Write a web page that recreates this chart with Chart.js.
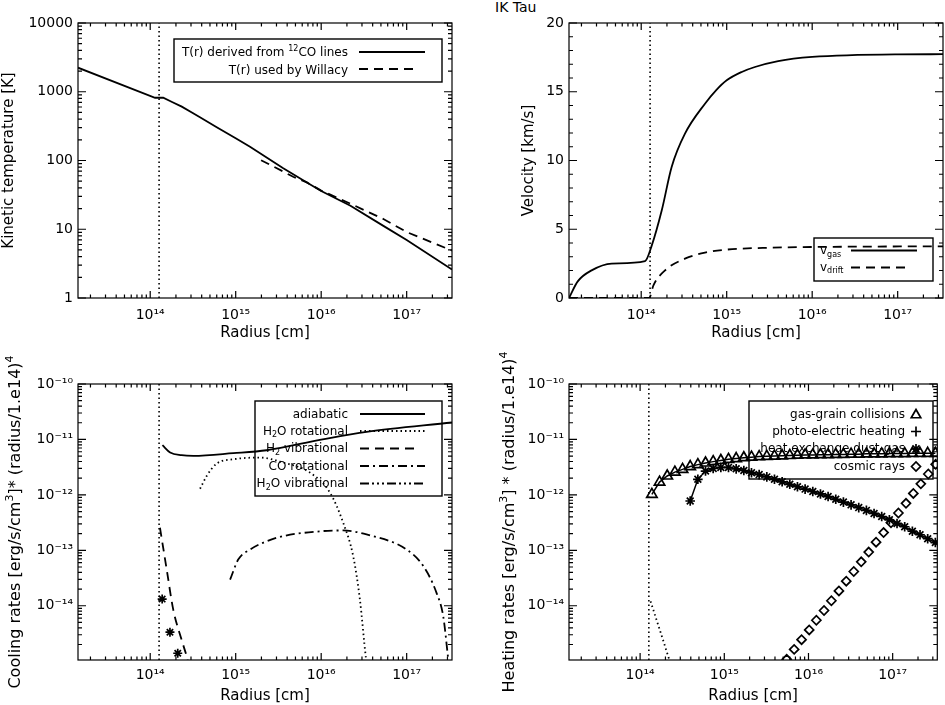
<!DOCTYPE html>
<html>
<head>
<meta charset="utf-8">
<title>IK Tau</title>
<script src="https://cdn.jsdelivr.net/npm/chart.js@4.4.1/dist/chart.umd.min.js"></script>
<style>
  body { margin: 0; background: #fff; width: 945px; height: 705px; position: relative; overflow: hidden; }
  canvas { position: absolute; }
  #title { position: absolute; left: 495px; top: -1px; font: 14px 'DejaVu Sans', sans-serif; color: #000; }
</style>
</head>
<body>
<div id="title">IK Tau</div>
<canvas id="tempChart" width="472" height="350" style="left:0;top:0"></canvas>
<canvas id="velChart" width="473" height="350" style="left:472px;top:0"></canvas>
<canvas id="coolChart" width="472" height="355" style="left:0;top:350px"></canvas>
<canvas id="heatChart" width="473" height="355" style="left:472px;top:350px"></canvas>
<script>
// radius axis, shared by all four panels
const rMin = 1.43e13, rMax = 3.39e17;
const rDust = 1.27e14;   // dotted vertical marker
const xTickValues = [1e14, 1e15, 1e16, 1e17];
const xTickLabels = ['10¹⁴', '10¹⁵', '10¹⁶', '10¹⁷'];

// top left: kinetic temperature
const tempTicks = [1, 10, 100, 1000, 10000];
const tempTickLabels = ['1', '10', '100', '1000', '10000'];
const tempR = [1.43e13, 1.14e14, 1.42e14, 1.8e14, 2.34e14, 3.0e14, 3.82e14, 6.0e14, 1.0e15, 1.47e15, 3.6e15, 6.8e15, 1.0e16, 2.2e16, 5.4e16, 1.0e17, 3.39e17];
const tempCO = [2240, 818, 818, 710, 607, 506, 425, 305, 210, 158, 77, 48, 36, 22, 11.1, 7.0, 2.6];
const willacyR = [1.98e15, 3.6e15, 4.7e15, 6.8e15, 1.0e16, 2.2e16, 5.4e16, 1.0e17, 2.9e17, 3.39e17];
const willacyT = [101, 69, 58, 48, 36.5, 23.5, 14, 9.1, 5.3, 4.9];

// top right: velocity
const velTicks = [0, 5, 10, 15, 20];
const velTickLabels = ['0', '5', '10', '15', '20'];
const gasR = [1.43e13, 1.81e13, 2.63e13, 4.52e13, 1.11e14, 1.33e14, 1.74e14, 2.27e14, 3.25e14, 5.57e14, 7.5e14, 1.0e15, 1.5e15, 2.14e15, 4.0e15, 1.0e16, 1.0e17, 3.39e17];
const gasV = [0, 1.21, 2.01, 2.50, 2.69, 3.83, 6.38, 9.53, 11.95, 14.13, 15.1, 15.83, 16.44, 16.8, 17.23, 17.53, 17.72, 17.73];
const driftR = [1.43e13, 1.24e14, 1.39e14, 1.9e14, 3.25e14, 5.57e14, 1.0e15, 3.36e15, 1.0e16, 3.39e17];
const driftV = [0, 0, 0.92, 2.01, 2.86, 3.3, 3.52, 3.66, 3.71, 3.76];

// bottom: cooling and heating rates
const rateMin = 1.05e-15, rateMax = 1e-10;
const rateTicks = [1e-14, 1e-13, 1e-12, 1e-11, 1e-10];
const rateTickLabels = ['10⁻¹⁴', '10⁻¹³', '10⁻¹²', '10⁻¹¹', '10⁻¹⁰'];

const adiabR = [1.39e14, 1.71e14, 2.33e14, 3.2e14, 9.4e14, 2.3e15, 1.0e16, 3.4e16, 3.39e17];
const adiabC = [7.87e-12, 5.8e-12, 5.19e-12, 5.05e-12, 5.64e-12, 6.38e-12, 9.9e-12, 1.37e-11, 2.02e-11];
const h2oRotR = [3.83e14, 4.58e14, 6.0e14, 9.4e14, 1.92e15, 3.6e15, 7.4e15, 1.27e16, 1.81e16, 2.37e16, 2.84e16, 3.34e16, 3.5e16];
const h2oRotC = [1.29e-12, 2.19e-12, 3.67e-12, 4.39e-12, 4.71e-12, 3.82e-12, 2.52e-12, 1.09e-12, 3.13e-13, 7.8e-14, 1.28e-14, 1.13e-15, 7e-16];
const h2VibR = [1.3e14, 1.56e14, 1.86e14, 2.33e14, 2.74e14, 2.9e14];
const h2VibC = [2.55e-13, 4.49e-14, 8.5e-15, 2.43e-15, 1.05e-15, 7e-16];
const coRotR = [8.6e14, 1.07e15, 1.47e15, 3.02e15, 1.0e16, 1.8e16, 3.39e16, 1.0e17, 1.57e17, 2.24e17, 2.68e17, 3.07e17];
const coRotC = [2.96e-14, 6.8e-14, 1.03e-13, 1.68e-13, 2.21e-13, 2.28e-13, 1.93e-13, 1.03e-13, 5.15e-14, 1.69e-14, 6.4e-15, 1.05e-15];

// radii where symbols are plotted
const rMark = [1.380e14, 1.702e14, 2.099e14, 2.588e14, 3.192e14, 3.936e14, 4.853e14, 5.984e14, 7.379e14, 9.099e14,
  1.122e15, 1.384e15, 1.706e15, 2.104e15, 2.594e15, 3.199e15, 3.945e15, 4.864e15, 5.998e15, 7.396e15,
  9.120e15, 1.125e16, 1.387e16, 1.710e16, 2.109e16, 2.600e16, 3.206e16, 3.954e16, 4.875e16, 6.012e16,
  7.413e16, 9.141e16, 1.127e17, 1.390e17, 1.714e17, 2.113e17, 2.606e17, 3.214e17];
const coolStarC = [1.32e-14, 3.33e-15, 1.39e-15];   // first three radii
const gasGrainH = [1.02e-12, 1.70e-12, 2.19e-12, 2.57e-12, 2.88e-12, 3.24e-12, 3.51e-12, 3.76e-12, 3.98e-12, 4.17e-12,
  4.37e-12, 4.52e-12, 4.68e-12, 4.79e-12, 4.90e-12, 4.95e-12, 5.01e-12, 5.07e-12, 5.13e-12, 5.19e-12,
  5.25e-12, 5.25e-12, 5.31e-12, 5.31e-12, 5.37e-12, 5.37e-12, 5.43e-12, 5.43e-12, 5.50e-12, 5.50e-12,
  5.50e-12, 5.56e-12, 5.56e-12, 5.56e-12, 5.62e-12, 5.62e-12, 5.62e-12, 5.62e-12];
const dustGasH = [7.76e-13, 1.91e-12, 2.69e-12, 2.99e-12, 3.13e-12, 3.13e-12, 2.95e-12, 2.75e-12, 2.51e-12, 2.32e-12,
  2.11e-12, 1.91e-12, 1.72e-12, 1.55e-12, 1.40e-12, 1.27e-12, 1.15e-12, 1.04e-12, 9.33e-13, 8.32e-13,
  7.41e-13, 6.61e-13, 5.89e-13, 5.25e-13, 4.62e-13, 4.07e-13, 3.55e-13, 3.05e-13, 2.66e-13, 2.21e-13,
  1.91e-13, 1.62e-13, 1.38e-13];   // from the sixth radius on
const cosmicR = [5.51e15, 6.76e15, 8.28e15, 1.02e16, 1.24e16, 1.53e16, 1.87e16, 2.30e16, 2.81e16, 3.45e16,
  4.23e16, 5.19e16, 6.35e16, 7.80e16, 9.55e16, 1.17e17, 1.44e17, 1.76e17, 2.16e17, 2.65e17, 3.24e17];
const cosmicH = [1.08e-15, 1.63e-15, 2.44e-15, 3.66e-15, 5.47e-15, 8.20e-15, 1.23e-14, 1.85e-14, 2.77e-14, 4.15e-14,
  6.21e-14, 9.31e-14, 1.40e-13, 2.09e-13, 3.14e-13, 4.71e-13, 7.05e-13, 1.06e-12, 1.58e-12, 2.38e-12, 3.56e-12];
const innerR = [1.33e14, 1.7e14, 2.25e14];
const innerH = [1.2e-14, 3.8e-15, 1.0e-15];

Chart.defaults.font.family = "'DejaVu Sans', sans-serif";
Chart.defaults.color = '#000';

const FONT = '"DejaVu Sans"';

// text with ^{sup} and _{sub} parts
function drawRich(ctx, text, x, y, align, size) {
  const runs = [];
  const re = /([\^_])\{([^}]*)\}/g;
  let last = 0, m;
  while ((m = re.exec(text)) !== null) {
    if (m.index > last) runs.push({ t: text.slice(last, m.index), k: '' });
    runs.push({ t: m[2], k: m[1] });
    last = re.lastIndex;
  }
  if (last < text.length) runs.push({ t: text.slice(last), k: '' });
  const fontFor = k => (k ? Math.round(size * 0.68) : size) + 'px ' + FONT;
  let total = 0;
  runs.forEach(r => { ctx.font = fontFor(r.k); r.w = ctx.measureText(r.t).width; total += r.w; });
  let cx = align === 'right' ? x - total : align === 'center' ? x - total / 2 : x;
  ctx.textAlign = 'left';
  ctx.textBaseline = 'middle';
  runs.forEach(r => {
    ctx.font = fontFor(r.k);
    const dy = r.k === '^' ? -size * 0.38 : r.k === '_' ? size * 0.32 : 0;
    ctx.fillText(r.t, cx, y + dy);
    cx += r.w;
  });
}

function drawMarker(ctx, style, radius, x, y) {
  ctx.fillStyle = 'rgba(0,0,0,0)';
  ctx.lineWidth = 1.7;
  if (Chart.helpers && Chart.helpers.drawPoint) {
    Chart.helpers.drawPoint(ctx, { pointStyle: style, radius: radius, borderWidth: 1.7, rotation: 0 }, x, y);
  }
  ctx.fillStyle = '#000';
}

// legend boxes and rotated axis titles, per canvas
const legendSpecs = {
  tempChart: {
    box: [174, 39, 442, 82], align: 'right', textX: 348, size: 12,
    items: [
      { text: 'T(r) derived from ^{12}CO lines', y: 53, line: [359, 425], ly: 52, dash: [] },
      { text: 'T(r) used by Willacy', y: 70.5, line: [359, 417], ly: 69, dash: [9, 6] }
    ]
  },
  velChart: {
    box: [342, 238, 461, 281], align: 'left', textX: 348, size: 12,
    items: [
      { text: 'v_{gas}', y: 251, line: [379, 445], ly: 250.5, dash: [] },
      { text: 'v_{drift}', y: 267.5, line: [379, 437], ly: 267.5, dash: [9, 6] }
    ]
  },
  coolChart: {
    box: [255, 51, 442, 146], align: 'right', textX: 348, size: 12,
    items: [
      { text: 'adiabatic', y: 65, line: [360, 425], ly: 64, dash: [] },
      { text: 'H_{2}O rotational', y: 81.5, line: [360, 425], ly: 81, dash: [1.5, 3] },
      { text: 'H_{2} vibrational', y: 99, line: [360, 418], ly: 98.5, dash: [9, 6] },
      { text: 'CO rotational', y: 116.5, line: [360, 425], ly: 116, dash: [9, 4, 2, 4] },
      { text: 'H_{2}O vibrational', y: 134, line: [360, 425], ly: 133.5, dash: [9, 3, 2, 3, 2, 3, 2, 3] }
    ]
  },
  heatChart: {
    box: [277, 51, 461, 129], align: 'right', textX: 433, size: 12,
    items: [
      { text: 'gas-grain collisions', y: 65, marker: 'triangle', radius: 5.5 },
      { text: 'photo-electric heating', y: 81.5, marker: 'cross', radius: 5 },
      { text: 'heat exchange dust-gas', y: 99, marker: 'star', radius: 5 },
      { text: 'cosmic rays', y: 116.5, marker: 'rectRot', radius: 4.5 }
    ],
    markX: 444
  }
};
const yTitles = {
  tempChart: { text: 'Kinetic temperature [K]', x: 9.5, size: 15 },
  velChart: { text: 'Velocity [km/s]', x: 57, size: 15 },
  coolChart: { text: 'Cooling rates [erg/s/cm^{3}]* (radius/1.e14)^{4}', x: 16, size: 16 },
  heatChart: { text: 'Heating rates [erg/s/cm^{3}] * (radius/1.e14)^{4}', x: 38, size: 16 }
};

function minorTicks(scale) {
  const out = [];
  if (scale.type === 'logarithmic') {
    const e0 = Math.floor(Math.log10(scale.min)), e1 = Math.ceil(Math.log10(scale.max));
    for (let e = e0; e <= e1; e++) {
      for (let k = 1; k < 10; k++) {
        const v = k * Math.pow(10, e);
        if (v >= scale.min * 0.9999 && v <= scale.max * 1.0001) out.push([v, k === 1]);
      }
    }
  } else {
    for (let v = scale.min; v <= scale.max; v += 1) out.push([v, v % 5 === 0]);
  }
  return out;
}

// box around the plot with inward ticks on all four sides
const frameTicks = {
  id: 'frameTicks',
  afterDraw(chart) {
    const { ctx, chartArea: a, scales } = chart;
    ctx.save();
    ctx.strokeStyle = '#000';
    ctx.lineWidth = 1.2;
    ctx.setLineDash([]);
    ctx.strokeRect(a.left, a.top, a.right - a.left, a.bottom - a.top);
    ctx.beginPath();
    minorTicks(scales.x).forEach(([v, major]) => {
      const px = scales.x.getPixelForValue(v), len = major ? 7 : 3.5;
      ctx.moveTo(px, a.bottom); ctx.lineTo(px, a.bottom - len);
      ctx.moveTo(px, a.top); ctx.lineTo(px, a.top + len);
    });
    minorTicks(scales.y).forEach(([v, major]) => {
      const py = scales.y.getPixelForValue(v), len = major ? 8 : 4;
      ctx.moveTo(a.left, py); ctx.lineTo(a.left + len, py);
      ctx.moveTo(a.right, py); ctx.lineTo(a.right - len, py);
    });
    ctx.stroke();
    ctx.restore();
  }
};

const boxLegend = {
  id: 'boxLegend',
  afterDatasetsDraw(chart) {
    const spec = legendSpecs[chart.canvas.id];
    if (!spec) return;
    const ctx = chart.ctx;
    ctx.save();
    ctx.strokeStyle = '#000';
    ctx.fillStyle = '#000';
    ctx.lineWidth = 1.4;
    const [x0, y0, x1, y1] = spec.box;
    ctx.strokeRect(x0, y0, x1 - x0, y1 - y0);
    spec.items.forEach(it => {
      drawRich(ctx, it.text, spec.textX, it.y, spec.align, spec.size);
      if (it.line) {
        ctx.lineWidth = 1.8;
        ctx.setLineDash(it.dash);
        ctx.beginPath();
        ctx.moveTo(it.line[0], it.ly);
        ctx.lineTo(it.line[1], it.ly);
        ctx.stroke();
        ctx.setLineDash([]);
      }
      if (it.marker) drawMarker(ctx, it.marker, it.radius, spec.markX, it.y);
    });
    ctx.restore();
  }
};

const yTitle = {
  id: 'yTitle',
  afterDraw(chart) {
    const t = yTitles[chart.canvas.id];
    if (!t) return;
    const { ctx, chartArea: a } = chart;
    ctx.save();
    ctx.fillStyle = '#000';
    ctx.translate(t.x, (a.top + a.bottom) / 2);
    ctx.rotate(-Math.PI / 2);
    drawRich(ctx, t.text, 0, 0, 'center', t.size);
    ctx.restore();
  }
};

Chart.register(frameTicks, boxLegend, yTitle);

function xy(rs, vs) {
  return rs.map((r, i) => ({ x: r, y: vs[i] }));
}

// curve through the read points; smooth ones use monotone interpolation
function lineSet(rs, vs, dash, straight) {
  const set = {
    data: xy(rs, vs), borderColor: '#000', borderWidth: 1.8, borderDash: dash || [],
    pointRadius: 0, fill: false, tension: 0
  };
  if (!straight) set.cubicInterpolationMode = 'monotone';
  return set;
}

// straight dotted marker at the inner radius
function markerLine(ymin, ymax) {
  return {
    data: xy([rDust, rDust], [ymin, ymax]), borderColor: '#000', borderWidth: 1.6,
    borderDash: [1.5, 3], pointRadius: 0, fill: false, tension: 0
  };
}

function markSet(rs, vs, style, radius, showLine) {
  return {
    data: xy(rs, vs), showLine: showLine, borderColor: '#000', borderWidth: 1.5,
    pointStyle: style, pointRadius: radius, pointBorderWidth: 1.7,
    pointBorderColor: '#000', pointBackgroundColor: 'rgba(0,0,0,0)', fill: false, tension: 0
  };
}

function options(o) {
  return {
    responsive: false,
    animation: false,
    events: [],
    layout: { padding: { top: o.top, right: o.right, left: 0, bottom: 0 } },
    plugins: { legend: { display: false }, tooltip: { enabled: false } },
    scales: {
      x: {
        type: 'logarithmic', min: rMin, max: rMax, bounds: 'data',
        afterBuildTicks: s => { s.ticks = xTickValues.map(v => ({ value: v })); },
        afterFit: s => { s.height = o.xHeight; },
        ticks: { callback: (v, i) => xTickLabels[i], autoSkip: false, maxRotation: 0, minRotation: 0,
          padding: o.xPad, color: '#000', font: { size: 14 } },
        grid: { display: false, drawTicks: false },
        border: { display: false },
        title: { display: true, text: 'Radius [cm]', color: '#000', font: { size: 15 },
          padding: { top: 0, bottom: o.xTitlePad } }
      },
      y: {
        type: o.yType, min: o.yMin, max: o.yMax, bounds: 'data',
        afterBuildTicks: s => { s.ticks = o.yTicks.map(v => ({ value: v })); },
        afterFit: s => { s.width = o.yWidth; },
        ticks: { callback: (v, i) => o.yLabels[i], autoSkip: false, padding: 5, color: '#000', font: { size: 14 } },
        grid: { display: false, drawTicks: false },
        border: { display: false }
      }
    }
  };
}

new Chart(document.getElementById('tempChart'), {
  type: 'line',
  data: {
    datasets: [
      markerLine(1, 10000),
      lineSet(tempR, tempCO, [], true),
      lineSet(willacyR, willacyT, [9, 6], true)
    ]
  },
  options: options({ top: 23, right: 20, xHeight: 52, xPad: 9, xTitlePad: 8, yWidth: 78,
    yType: 'logarithmic', yMin: 1, yMax: 10000, yTicks: tempTicks, yLabels: tempTickLabels })
});

new Chart(document.getElementById('velChart'), {
  type: 'line',
  data: {
    datasets: [
      markerLine(0, 20),
      lineSet(gasR, gasV),
      lineSet(driftR, driftV, [9, 6])
    ]
  },
  options: options({ top: 23, right: 2, xHeight: 52, xPad: 9, xTitlePad: 8, yWidth: 97,
    yType: 'linear', yMin: 0, yMax: 20, yTicks: velTicks, yLabels: velTickLabels })
});

new Chart(document.getElementById('coolChart'), {
  type: 'line',
  data: {
    datasets: [
      markerLine(rateMin, rateMax),
      lineSet(adiabR, adiabC),
      lineSet(h2oRotR, h2oRotC, [1.5, 3]),
      lineSet(h2VibR, h2VibC, [9, 6]),
      lineSet(coRotR, coRotC, [9, 4, 2, 4]),
      markSet(rMark.slice(0, 3), coolStarC, 'star', 4.5, false)
    ]
  },
  options: options({ top: 34, right: 20, xHeight: 45, xPad: 7, xTitlePad: 0, yWidth: 78,
    yType: 'logarithmic', yMin: rateMin, yMax: rateMax, yTicks: rateTicks, yLabels: rateTickLabels })
});

new Chart(document.getElementById('heatChart'), {
  type: 'line',
  data: {
    datasets: [
      markerLine(rateMin, rateMax),
      lineSet(innerR, innerH, [1.5, 3]),
      markSet(rMark, gasGrainH, 'triangle', 6, true),
      markSet(rMark.slice(5), dustGasH, 'star', 4.8, true),
      markSet(cosmicR, cosmicH, 'rectRot', 4.5, false)
    ]
  },
  options: options({ top: 34, right: 2, xHeight: 45, xPad: 7, xTitlePad: 0, yWidth: 97,
    yType: 'logarithmic', yMin: rateMin, yMax: rateMax, yTicks: rateTicks, yLabels: rateTickLabels })
});
</script>
</body>
</html>
